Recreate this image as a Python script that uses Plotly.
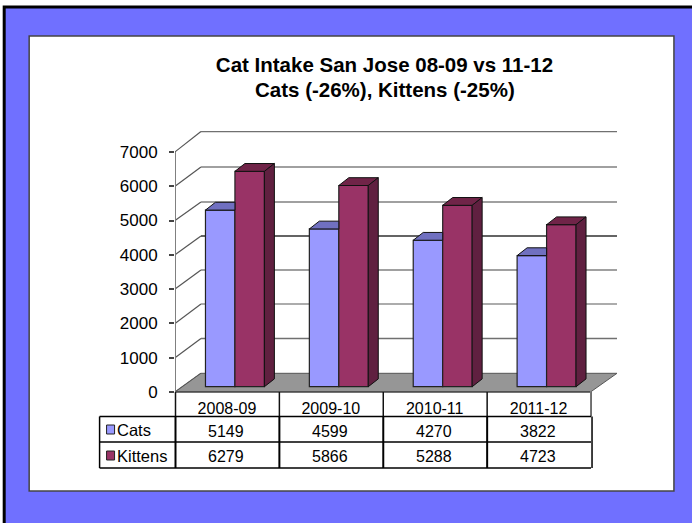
import plotly.graph_objects as go

categories = ["2008-09", "2009-10", "2010-11", "2011-12"]
cats = [5149, 4599, 4270, 3822]
kittens = [6279, 5866, 5288, 4723]
y_ticks = [0, 1000, 2000, 3000, 4000, 5000, 6000, 7000]
title_line1 = "<b>Cat Intake San Jose 08-09 vs 11-12</b>"
title_line2 = "<b>Cats (-26%), Kittens (-25%)</b>"

W, H = 692, 523
L, R, T, B = 174.5, 617.0, 131.0, 392.0     # plot area in pixels
PX_X = 104.0                                # pixels per category
PX_Y = 0.0343                               # pixels per unit
XR = (R - L) / PX_X
YR = (B - T) / PX_Y
FONT = "Liberation Sans"

def px(p): return (p - L) / (R - L)
def py(p): return (B - p) / (B - T)
dx = lambda p: p / PX_X
dy = lambda p: p / PX_Y

shapes, notes = [], []
def rect(x0, y0, x1, y1, fill, line=None, w=1):
    shapes.append(dict(type="rect", xref="paper", yref="paper", x0=px(x0), x1=px(x1), y0=py(y0), y1=py(y1),
                       fillcolor=fill, line=dict(color=line or "rgba(0,0,0,0)", width=w if line else 0), layer="below"))
def pline(x0, y0, x1, y1, color="#000", w=1):
    shapes.append(dict(type="line", xref="paper", yref="paper", x0=px(x0), x1=px(x1), y0=py(y0), y1=py(y1),
                       line=dict(color=color, width=w), layer="above"))
def note(x, y, t, anchor="center", size=16):
    notes.append(dict(xref="paper", yref="paper", x=px(x), y=py(y), text=t, showarrow=False, xanchor=anchor,
                      yanchor="middle", font=dict(family=FONT, size=size, color="#000")))

# page frame
rect(3.5, 7, W + 10, H + 10, "#7070FF", "#000", 3)
rect(28.5, 36, 674, 491, "#FFFFFF", "#444", 1.5)

# walls: gridlines on back and left wall, then floor
DEPTH_X = dx(26)
FLOOR_BACK = dy(B - 373.3)
back_px = {0: 373.3, 1000: 338.5, 2000: 304, 3000: 270, 4000: 236, 5000: 202, 6000: 167, 7000: 131.5}
grid_colors = {0: "#808080", 1000: "#707070", 2000: "#909090", 3000: "#808080",
               4000: "#303030", 5000: "#808080", 6000: "#808080", 7000: "#707070"}
for v in y_ticks:
    yb = dy(B - back_px[v])
    shapes.append(dict(type="line", xref="x", yref="y", x0=0, y0=v, x1=DEPTH_X, y1=yb,
                       line=dict(color="#555", width=1.2), layer="below"))
    if v:
        shapes.append(dict(type="line", xref="x", yref="y", x0=DEPTH_X, y0=yb, x1=XR, y1=yb,
                           line=dict(color=grid_colors[v], width=1.4), layer="below"))
n = len(categories)
shapes.append(dict(type="path", xref="x", yref="y", layer="below", fillcolor="#969696",
                   line=dict(color="#555", width=1),
                   path=f"M0,0 L{DEPTH_X},{FLOOR_BACK} L{XR},{FLOOR_BACK} L{n},0 Z"))
shapes.append(dict(type="line", xref="x", yref="y", x0=0, y0=0, x1=0, y1=7000,
                   line=dict(color="#808080", width=2), layer="below"))

fig = go.Figure()

# bars
BAR_W = dx(29.5)
OFF_C = dx(30.5) - 0.5
OFF_K = OFF_C + BAR_W
BASE = dy(5.3)
SIDE_X, SIDE_Y = dx(10), dy(7.8)
xs = [i + 0.5 for i in range(n)]
for name, vals, off, col in [("Cats", cats, OFF_C, "#9999FF"), ("Kittens", kittens, OFF_K, "#993366")]:
    fig.add_trace(go.Bar(name=name, x=xs, y=vals, base=[BASE] * n, width=BAR_W, offset=off,
                         marker=dict(color=col, line=dict(color="#222", width=1.2)), showlegend=False))

def poly(xv, yv, color):
    fig.add_trace(go.Scatter(x=xv, y=yv, mode="lines", fill="toself", fillcolor=color,
                             line=dict(color="#111", width=1), showlegend=False, hoverinfo="skip"))

for i in range(n):
    # cats top is cut off where the kittens bar starts
    x0, x1 = xs[i] + OFF_C, xs[i] + OFF_K
    t = BASE + cats[i]
    poly([x0, x1, x1, x0 + SIDE_X, x0], [t, t, t + SIDE_Y, t + SIDE_Y, t], "#7070C0")
    x0, x1 = x1, x1 + BAR_W
    t = BASE + kittens[i]
    poly([x0, x1, x1 + SIDE_X, x0 + SIDE_X, x0], [t, t, t + SIDE_Y, t + SIDE_Y, t], "#702448")
    poly([x1, x1 + SIDE_X, x1 + SIDE_X, x1, x1],
         [t, t + SIDE_Y, BASE + SIDE_Y, BASE, t], "#602040")

# data table
col_x = [175 + i * PX_X for i in range(n + 1)]
rows = [416.5, 442, 468]
pline(175, 392, 590, 392, "#444", 1.5)
for i, x in enumerate(col_x):
    last = i == n
    pline(x, 392, x, 416.5, "#444" if last else "#111", 1.5)
    pline(x + (1 if last else 0), 416.5, x + (1 if last else 0), 468, "#000", 1.5 if last else 2)
pline(99, 416.5, 99, 468, "#000", 1.5)
for r in rows:
    pline(99, r, 591, r, "#000", 1.5)

for label, vals, fill, yc in [("Cats", cats, "#9999FF", 430), ("Kittens", kittens, "#993366", 456)]:
    rect(106, yc - 5, 114, yc + 4, fill, "#222", 1)
    note(114.5, yc, label, "left", 16.5)
    for i, v in enumerate(vals):
        note(col_x[i] + PX_X / 2 - 1, yc + 1, str(v))

note(384.5, 89, title_line2, "center", 20.5)

fig.update_layout(
    width=W, height=H, autosize=False,
    margin=dict(l=L, r=W - R, t=T, b=H - B, pad=0),
    paper_bgcolor="#FFFFFF", plot_bgcolor="rgba(0,0,0,0)",
    barmode="overlay", showlegend=False, shapes=shapes, annotations=notes,
    title=dict(text=title_line1, x=384.5 / W, xanchor="center", y=1 - 65 / H, yanchor="middle",
               font=dict(family=FONT, size=20.5, color="#000")),
    font=dict(family=FONT, color="#000"),
    xaxis=dict(range=[0, XR], tickmode="array", tickvals=xs, ticktext=categories, showgrid=False, zeroline=False,
               showline=False, ticks="", tickfont=dict(size=16, family=FONT), ticklabelstandoff=5),
    yaxis=dict(range=[0, YR], tickmode="array", tickvals=y_ticks, showgrid=False, zeroline=False,
               showline=False, ticks="outside", ticklen=5, tickwidth=1.5, tickcolor="#444",
               tickfont=dict(size=17, family=FONT), ticklabelstandoff=8),
)
fig.write_html("out.html", post_script="document.body.style.margin='0';", config=dict(displayModeBar=False))
